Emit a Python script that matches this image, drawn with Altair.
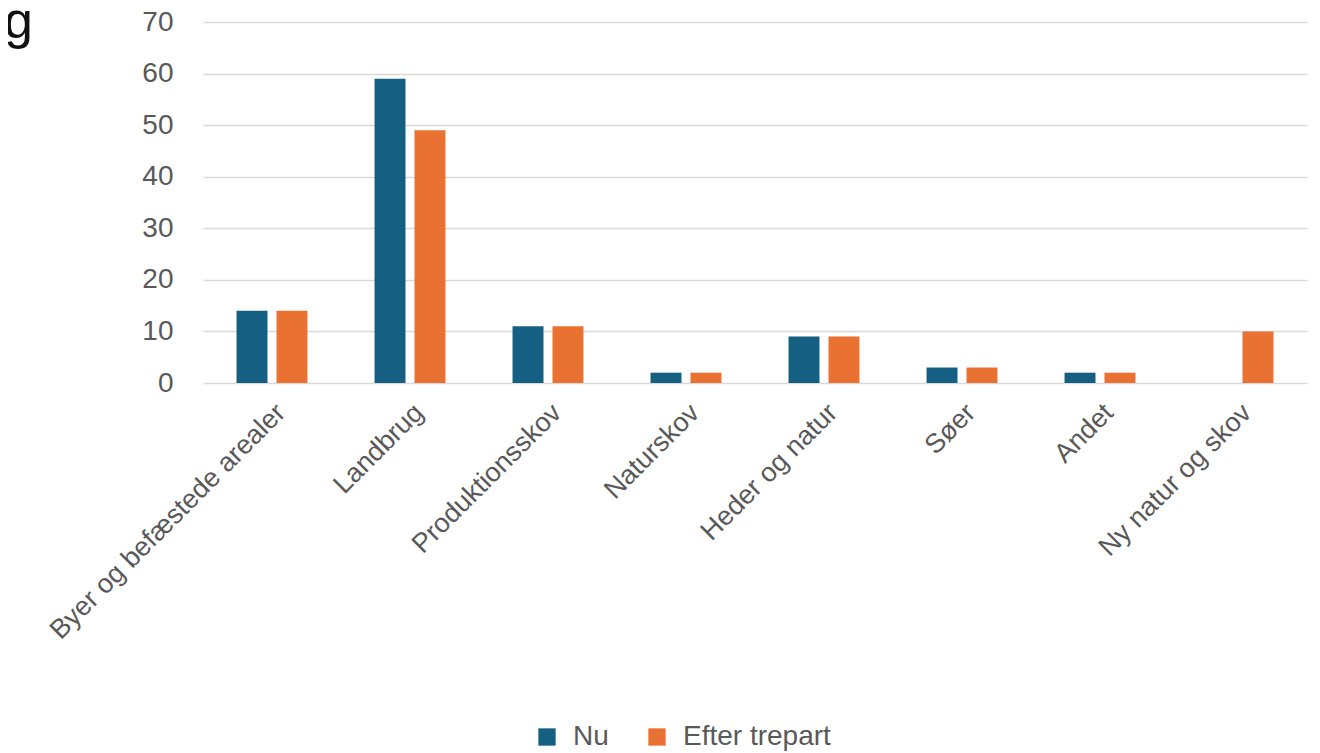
import altair as alt
import pandas as pd

categories = ["Byer og befæstede arealer", "Landbrug", "Produktionsskov", "Naturskov",
              "Heder og natur", "Søer", "Andet", "Ny natur og skov"]
series = ["Nu", "Efter trepart"]
nu = [14, 59, 11, 2, 9, 3, 2, None]
efter = [14, 49, 11, 2, 9, 3, 2, 10]
y_ticks = [0, 10, 20, 30, 40, 50, 60, 70]
colors = ["#156082", "#E97132"]

rows = []
for c, a, b in zip(categories, nu, efter):
    if a is not None:
        rows.append({"kategori": c, "serie": series[0], "værdi": a})
    if b is not None:
        rows.append({"kategori": c, "serie": series[1], "værdi": b})
df = pd.DataFrame(rows)

FONT = "Liberation Sans"
GRAY = "#595959"

bars = alt.Chart(df).mark_bar().encode(
    x=alt.X("kategori:N", sort=categories, title=None,
            scale=alt.Scale(paddingInner=0.486, paddingOuter=0.243),
            axis=alt.Axis(labelAngle=-45, labelFontSize=27, labelColor=GRAY, labelFont=FONT,
                          domain=False, ticks=False, labelPadding=16, labelLimit=600)),
    xOffset=alt.XOffset("serie:N", sort=series,
                        scale=alt.Scale(paddingInner=0.225, paddingOuter=0)),
    y=alt.Y("værdi:Q", title=None,
            scale=alt.Scale(domain=[0, 70], nice=False),
            axis=alt.Axis(values=y_ticks, labelFontSize=28, labelColor=GRAY, labelFont=FONT,
                          domain=False, ticks=False, labelPadding=30,
                          gridColor="#d9d9d9", gridWidth=1.6)),
    color=alt.Color("serie:N", sort=series,
                    scale=alt.Scale(domain=series, range=colors),
                    legend=alt.Legend(title=None, orient="none", legendX=330, legendY=701,
                                      direction="horizontal", symbolType="square",
                                      symbolSize=300, symbolStrokeWidth=0,
                                      labelFontSize=28, labelColor=GRAY, labelFont=FONT,
                                      labelOffset=12, columnPadding=34)),
)

frag = alt.Chart(pd.DataFrame({"t": ["g"]})).mark_text(
    fontSize=52, font=FONT, color="#111111", align="left", baseline="alphabetic"
).encode(text="t:N", x=alt.value(-199), y=alt.value(16))

chart = alt.layer(bars, frag).properties(
    width=1104, height=361,
    padding={"left": 195, "top": 14, "right": 5, "bottom": 368},
    autosize=alt.AutoSizeParams(type="none"),
).configure_view(stroke=None)

chart.save("out.html", embed_options={"renderer": "svg", "actions": False})
